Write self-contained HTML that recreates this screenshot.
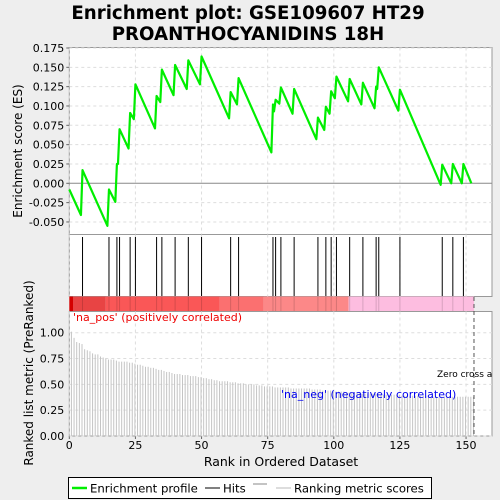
<!DOCTYPE html>
<html><head><meta charset="utf-8"><style>
html,body{margin:0;padding:0;background:#eeeeee;}
svg{display:block;font-family:"DejaVu Sans","Liberation Sans",sans-serif;}
</style></head><body>
<svg id="chart" width="500" height="500" viewBox="0 0 500 500">
<rect x="0" y="0" width="500" height="500" fill="#eeeeee"/>
<text x="248" y="19" text-anchor="middle" font-size="18.2" font-weight="bold">Enrichment plot: GSE109607 HT29</text>
<text x="248" y="40" text-anchor="middle" font-size="18.2" font-weight="bold">PROANTHOCYANIDINS 18H</text>
<g id="topPanel"></g>
<g id="hitsPanel"></g>
<g id="bottomPanel"></g>
<g>
<rect x="68.5" y="477.5" width="363" height="21" fill="#fff" stroke="#000"/>
<line x1="72" y1="488" x2="87" y2="488" stroke="#00ee00" stroke-width="2.5"/>
<text x="90" y="492.5" font-size="11.7">Enrichment profile</text>
<line x1="205" y1="488" x2="220" y2="488" stroke="#000" stroke-width="1"/>
<text x="223" y="492.5" font-size="11.7">Hits</text>
<line x1="253" y1="484" x2="267" y2="484" stroke="#888" stroke-width="1"/>
<line x1="276" y1="488" x2="291" y2="488" stroke="#bbb" stroke-width="1"/>
<text x="294" y="492.5" font-size="11.7">Ranking metric scores</text>
</g>
</svg>
<script>
const hitRanks=[5,15,18,19,23,25,33,35,40,45,50,61,64,77,78,80,85,94,97,99,101,106,111,116,117,125,141,145,149];
const esBefore=[-0.041,-0.055,-0.024,0.025,0.045,0.083,0.071,0.105,0.114,0.122,0.128,0.084,0.102,0.040,0.093,0.103,0.090,0.057,0.069,0.090,0.110,0.106,0.102,0.097,0.122,0.094,-0.002,0.0,0.0];
const esAfter=[0.017,-0.008,0.025,0.070,0.091,0.128,0.113,0.147,0.153,0.159,0.164,0.118,0.136,0.102,0.108,0.124,0.122,0.085,0.099,0.119,0.138,0.135,0.130,0.125,0.150,0.121,0.024,0.025,0.025];
const esStart=-0.008;
const esEnd=0.0;
const totalRanks=153;
const esTicks=[0.175,0.150,0.125,0.100,0.075,0.050,0.025,0.000,-0.025,-0.050];
const rankTicks=[0,25,50,75,100,125,150];
const metricTicks=[0,0.25,0.5,0.75,1.0];
const metricValues=[1.01,0.95,0.91,0.90,0.89,0.84,0.83,0.82,0.80,0.79,0.79,0.77,0.76,0.75,0.74,0.74,0.74,0.73,0.72,0.72,0.72,0.72,0.71,0.71,0.70,0.69,0.69,0.68,0.67,0.67,0.66,0.66,0.65,0.64,0.64,0.63,0.62,0.62,0.61,0.60,0.60,0.60,0.59,0.59,0.59,0.58,0.58,0.58,0.57,0.57,0.56,0.56,0.55,0.55,0.54,0.54,0.53,0.53,0.53,0.53,0.52,0.52,0.52,0.51,0.51,0.51,0.50,0.50,0.50,0.50,0.49,0.49,0.49,0.48,0.48,0.48,0.48,0.47,0.47,0.47,0.47,0.47,0.47,0.46,0.46,0.46,0.46,0.46,0.46,0.46,0.46,0.45,0.45,0.45,0.45,0.44,0.44,0.44,0.44,0.43,0.43,0.43,0.43,0.43,0.42,0.42,0.42,0.42,0.42,0.42,0.41,0.41,0.41,0.41,0.41,0.41,0.41,0.40,0.40,0.40,0.40,0.40,0.40,0.40,0.40,0.39,0.39,0.39,0.39,0.39,0.39,0.39,0.39,0.39,0.39,0.39,0.38,0.38,0.38,0.38,0.38,0.38,0.38,0.38,0.38,0.38,0.38,0.38,0.38,0.38,0.38,0.38,0.38];
const colorSegments=[[0,1.4,"#d40000"],[1.4,13.8,"#e84444"],[13.8,56.9,"#fa5757"],[56.9,73.5,"#fb7070"],[73.5,105.6,"#fc8888"],[105.6,153,"#fdbde0"]];

const NS="http://www.w3.org/2000/svg";
function mk(parent,tag,attrs){const e=document.createElementNS(NS,tag);for(const k in attrs)e.setAttribute(k,attrs[k]);parent.appendChild(e);return e;}
const X0=69.3,XR=2.645,PR=492;
function xs(r){return X0+r*XR;}
function yes(v){return 183.3-v*(19.33/0.025);}
function ym(v){return 436-v*(103.3);}

const topG=document.getElementById('topPanel');
let r=mk(topG,'rect',{x:X0,y:47.5,width:PR-X0,height:187,fill:'#fff',stroke:'#999'});


rankTicks.forEach(t=>{let l=mk(topG,'line',{x1:xs(t),x2:xs(t),y1:47.5,y2:234.5,stroke:'#ddd','stroke-dasharray':'3,3'});

});
esTicks.forEach(t=>{const y=yes(t);
let l=mk(topG,'line',{x1:X0,x2:PR,y1:y,y2:y,stroke:t===0?'#888':'#ddd','stroke-dasharray':t===0?'':'3,3'});


let tk=mk(topG,'line',{x1:X0-3,x2:X0,y1:y,y2:y,stroke:'#666'});


let tx=mk(topG,'text',{x:X0-5,y:y+4,'text-anchor':'end','font-size':'11'});tx.textContent=t.toFixed(3);

});
let yl=mk(topG,'text',{x:0,y:0,transform:'translate(22,151) rotate(-90)','text-anchor':'middle','font-size':'12'});yl.textContent='Enrichment score (ES)';


let pts=[[xs(0),yes(esStart)]];
hitRanks.forEach((h,i)=>{pts.push([xs(h-0.6),yes(esBefore[i])]);pts.push([xs(h),yes(esAfter[i])]);});
pts.push([xs(totalRanks-1),yes(esEnd)]);
let pl=mk(topG,'polyline',{points:pts.map(p=>p.join(',')).join(' '),fill:'none',stroke:'#00ee00','stroke-width':'2.2','stroke-linejoin':'round'});



const hitsG=document.getElementById('hitsPanel');
r=mk(hitsG,'rect',{x:X0,y:234.5,width:PR-X0,height:62,fill:'#fff',stroke:'#999'});


rankTicks.forEach(t=>{let l=mk(hitsG,'line',{x1:xs(t),x2:xs(t),y1:234.5,y2:296.5,stroke:'#ddd','stroke-dasharray':'3,3'});

});
hitRanks.forEach(h=>{let l=mk(hitsG,'line',{x1:xs(h),x2:xs(h),y1:237,y2:296,stroke:'#000','stroke-width':'1'});

});
colorSegments.forEach(s=>{let c=mk(hitsG,'rect',{x:xs(s[0]),y:296.5,width:(s[1]-s[0])*XR,height:15,fill:s[2]});

});
hitRanks.forEach(h=>{let l=mk(hitsG,'line',{x1:xs(h),x2:xs(h),y1:296.5,y2:311.5,stroke:'#000','stroke-opacity':'0.15'});

});

const botG=document.getElementById('bottomPanel');
r=mk(botG,'rect',{x:X0,y:311.5,width:PR-X0,height:124.5,fill:'#fff',stroke:'#999'});


rankTicks.forEach(t=>{let l=mk(botG,'line',{x1:xs(t),x2:xs(t),y1:311.5,y2:436,stroke:'#ddd','stroke-dasharray':'3,3'});


let tk=mk(botG,'line',{x1:xs(t),x2:xs(t),y1:436,y2:439,stroke:'#666'});


let tx=mk(botG,'text',{x:xs(t),y:449,'text-anchor':'middle','font-size':'11'});tx.textContent=t;

});
metricTicks.forEach(t=>{const y=ym(t);
let l=mk(botG,'line',{x1:X0,x2:PR,y1:y,y2:y,stroke:'#ddd','stroke-dasharray':'3,3'});


let tx=mk(botG,'text',{x:X0-5,y:y+4,'text-anchor':'end','font-size':'11'});tx.textContent=t.toFixed(2);

});
metricValues.forEach((v,i)=>{const x=xs(i+0.8);
let b=mk(botG,'line',{x1:x,x2:x,y1:436,y2:ym(v),stroke:'#c4c4c4','stroke-width':'1'});

});
let zl=mk(botG,'line',{x1:xs(153),x2:xs(153),y1:297,y2:436,stroke:'#555','stroke-dasharray':'4,3'});


const cp=mk(document.getElementById('chart'),'clipPath',{id:'cp'});mk(cp,'rect',{x:0,y:0,width:492,height:500});
let zt=mk(botG,'text',{x:437,y:377,'font-size':'9','clip-path':'url(#cp)'});zt.textContent='Zero cross at 153';


let pos=mk(botG,'text',{x:73,y:321,'font-size':'11',fill:'#ee0000'});pos.textContent="'na_pos' (positively correlated)";


let neg=mk(botG,'text',{x:281,y:398,'font-size':'11',fill:'#0000ee'});neg.textContent="'na_neg' (negatively correlated)";


let bl=mk(botG,'text',{x:0,y:0,transform:'translate(33,373) rotate(-90)','text-anchor':'middle','font-size':'12'});bl.textContent='Ranked list metric (PreRanked)';


let xl=mk(botG,'text',{x:281,y:466,'text-anchor':'middle','font-size':'12.5'});xl.textContent='Rank in Ordered Dataset';


</script>
</body></html>
